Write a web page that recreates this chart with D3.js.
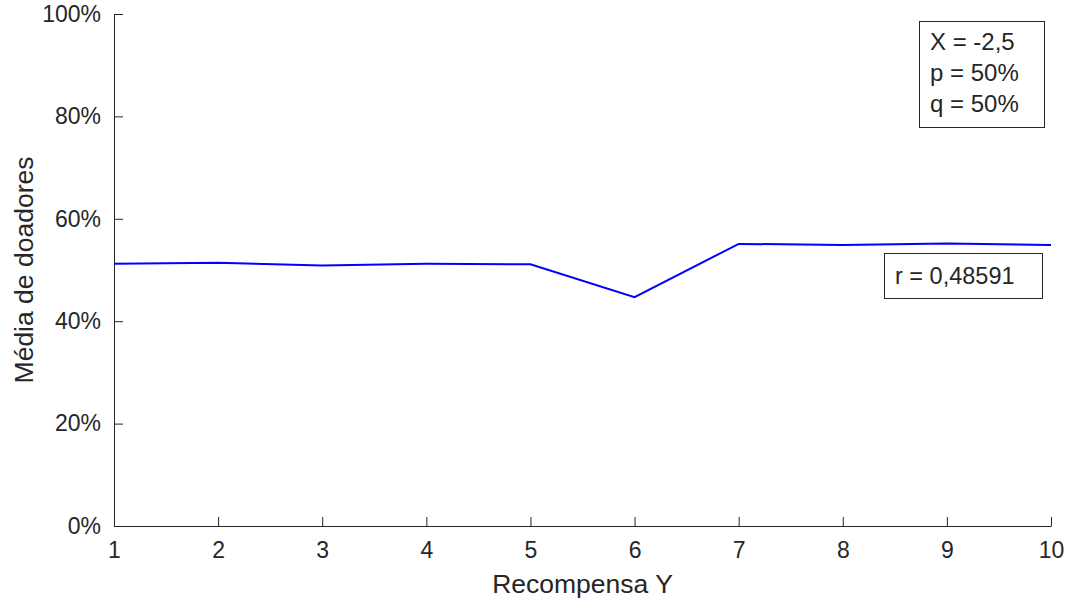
<!DOCTYPE html>
<html>
<head>
<meta charset="utf-8">
<script src="https://cdn.jsdelivr.net/npm/d3@7"></script>
<style>
  html, body { margin: 0; padding: 0; background: #fff; }
  svg { display: block; }
  text { font-family: "Liberation Sans", Arial, Helvetica, sans-serif; fill: #262626; }
</style>
</head>
<body>
<script>
const xValues = [1, 2, 3, 4, 5, 6, 7, 8, 9, 10];
const yValues = [0.512, 0.514, 0.509, 0.512, 0.511, 0.447, 0.551, 0.549, 0.552, 0.549];
const xTicks = [1, 2, 3, 4, 5, 6, 7, 8, 9, 10];
const yTicks = [0, 0.2, 0.4, 0.6, 0.8, 1.0];
const xLabel = "Recompensa Y";
const yLabel = "Média de doadores";
const infoLines = ["X = -2,5", "p = 50%", "q = 50%"];
const rText = "r = 0,48591";

const W = 1069, H = 603;
const mLeft = 114, mRight = 1051, mTop = 14, mBottom = 526;
const axisColor = "#262626";

const svg = d3.select("body").append("svg").attr("width", W).attr("height", H);

const x = d3.scaleLinear().domain([1, 10]).range([mLeft, mRight]);
const y = d3.scaleLinear().domain([0, 1]).range([mBottom, mTop]);

// X axis
const xAxis = svg.append("g").attr("transform", `translate(0,${mBottom})`)
  .call(d3.axisBottom(x).tickValues(xTicks).tickSize(-9).tickSizeOuter(0).tickPadding(16).tickFormat(d3.format("d")));
xAxis.select(".domain").attr("stroke", axisColor).attr("stroke-width", 1);
xAxis.selectAll(".tick line").attr("stroke", axisColor);
xAxis.selectAll(".tick text").attr("font-size", 23).attr("fill", axisColor)
  .style("font-family", "'Liberation Sans', Arial, sans-serif");

// Y axis
const yAxis = svg.append("g").attr("transform", `translate(${mLeft},0)`)
  .call(d3.axisLeft(y).tickValues(yTicks).tickSize(-9).tickSizeOuter(0).tickPadding(13).tickFormat(d => Math.round(d * 100) + "%"));
yAxis.select(".domain").attr("stroke", axisColor).attr("stroke-width", 1);
yAxis.selectAll(".tick line").attr("stroke", axisColor);
yAxis.selectAll(".tick text").attr("font-size", 23).attr("fill", axisColor)
  .style("font-family", "'Liberation Sans', Arial, sans-serif");

// Axis labels
svg.append("text").attr("x", (mLeft + mRight) / 2).attr("y", 593)
  .attr("text-anchor", "middle").attr("font-size", 26.5).text(xLabel);
svg.append("text").attr("transform", `translate(33,${(mTop + mBottom) / 2}) rotate(-90)`)
  .attr("text-anchor", "middle").attr("font-size", 26.5).text(yLabel);

// Line
const line = d3.line().x((d, i) => x(xValues[i])).y(d => y(d));
svg.append("path").datum(yValues).attr("d", line)
  .attr("fill", "none").attr("stroke", "#0000ff").attr("stroke-width", 2);

// Info box
svg.append("rect").attr("x", 919.5).attr("y", 21.5).attr("width", 125).attr("height", 106)
  .attr("fill", "#fff").attr("stroke", axisColor).attr("stroke-width", 1);
svg.selectAll(".info").data(infoLines).enter().append("text")
  .attr("x", 930).attr("y", (d, i) => 50 + i * 31).attr("font-size", 24).text(d => d);

// r box
svg.append("rect").attr("x", 884.5).attr("y", 253.5).attr("width", 158).attr("height", 45)
  .attr("fill", "#fff").attr("stroke", axisColor).attr("stroke-width", 1);
svg.append("text").attr("x", 895).attr("y", 284).attr("font-size", 23.5).text(rText);
</script>
</body>
</html>
